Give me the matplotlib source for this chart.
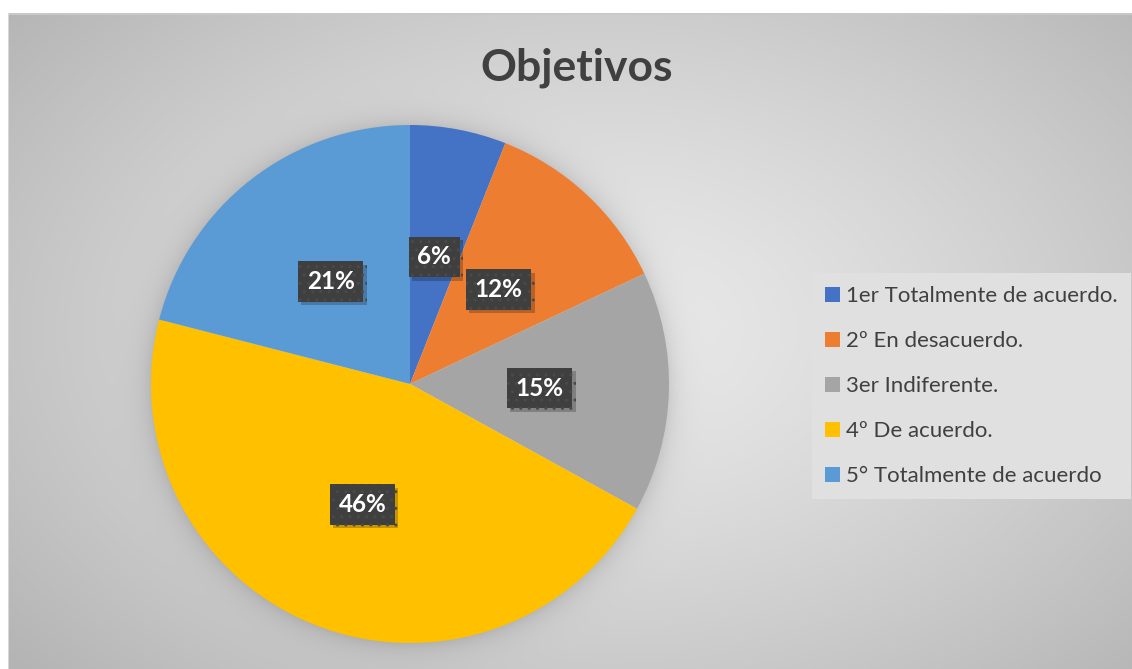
import numpy as np
import matplotlib
matplotlib.use('Agg')
import matplotlib.pyplot as plt
import matplotlib.patches as mpatches
import matplotlib.patheffects as pe

categorias = ['1er Totalmente de acuerdo.', '2º En desacuerdo.', '3er Indiferente.',
              '4º De acuerdo.', '5° Totalmente de acuerdo']
valores = [6, 12, 15, 46, 21]
colores = ['#4472C4', '#ED7D31', '#A5A5A5', '#FFC000', '#5B9BD5']
titulo = 'Objetivos'

W, H = 1132, 669
fig = plt.figure(figsize=(W / 100, H / 100), dpi=100)

# fondo: degradado radial gris + sombra suave alrededor del pastel
cx, cy, R = 410, 384, 259
yy, xx = np.mgrid[0:H, 0:W]
d = np.sqrt(((xx - 600) / 640.0) ** 2 + ((yy - 330) / 420.0) ** 2)
gris = 234 - 42 * np.clip(d, 0, 1.2) ** 1.3
r = np.sqrt((xx - cx) ** 2 + (yy - cy) ** 2)
gris = gris - 24 * np.exp(-np.clip(r - R, 0, None) / 12.0) * (r > R - 2)
gris[yy < 13] = 255
gris[xx < 8] = 255
gris[(yy >= 13) & (yy < 15) & (xx >= 8)] = 200
gris[(xx >= 8) & (xx < 9) & (yy >= 13)] = 215
img = np.dstack([gris, gris, gris]) / 255.0

bg = fig.add_axes([0, 0, 1, 1])
bg.imshow(img, aspect='auto', interpolation='bilinear')
bg.axis('off')

ax = fig.add_axes([(cx - R) / W, (H - cy - R) / H, 2 * R / W, 2 * R / H])
wedges, textos, autotextos = ax.pie(valores, colors=colores, startangle=90, counterclock=False,
                                    autopct='%d%%', pctdistance=0.5,
                                    wedgeprops=dict(linewidth=0))
ax.set_xlim(-1, 1)
ax.set_ylim(-1, 1)
ax.set_aspect('equal')

for t in autotextos:
    t.set_color('white')
    t.set_fontweight('bold')
    t.set_fontsize(17.5)
    t.set_family('Lato')
    t.set_bbox(dict(boxstyle='square,pad=0.36', facecolor='#3f3f3f', edgecolor='#4a4a4a',
                    linewidth=0, hatch='..'))
    t.get_bbox_patch().set_path_effects([
        pe.SimplePatchShadow(offset=(2.5, -2.5), shadow_rgbFace='black', alpha=0.22),
        pe.Normal()])

fig.text(577 / W, 1 - 68 / H, titulo, ha='center', va='center', fontsize=32,
         fontweight='bold', color='#404040', family='Lato')

handles = [mpatches.Patch(facecolor=c, edgecolor='none') for c in colores]
leg = fig.legend(handles, categorias, loc='upper left',
                 bbox_to_anchor=(812 / W, 1 - 273 / H), prop=dict(family='Lato', size=16),
                 frameon=True, fancybox=False, facecolor='#e0e0e0', edgecolor='none',
                 framealpha=1, handlelength=0.65, handleheight=0.65, handletextpad=0.3,
                 labelspacing=1.12, borderpad=0.6, borderaxespad=0)
for txt in leg.get_texts():
    txt.set_color('#404040')

fig.savefig('out.png', dpi=100)
